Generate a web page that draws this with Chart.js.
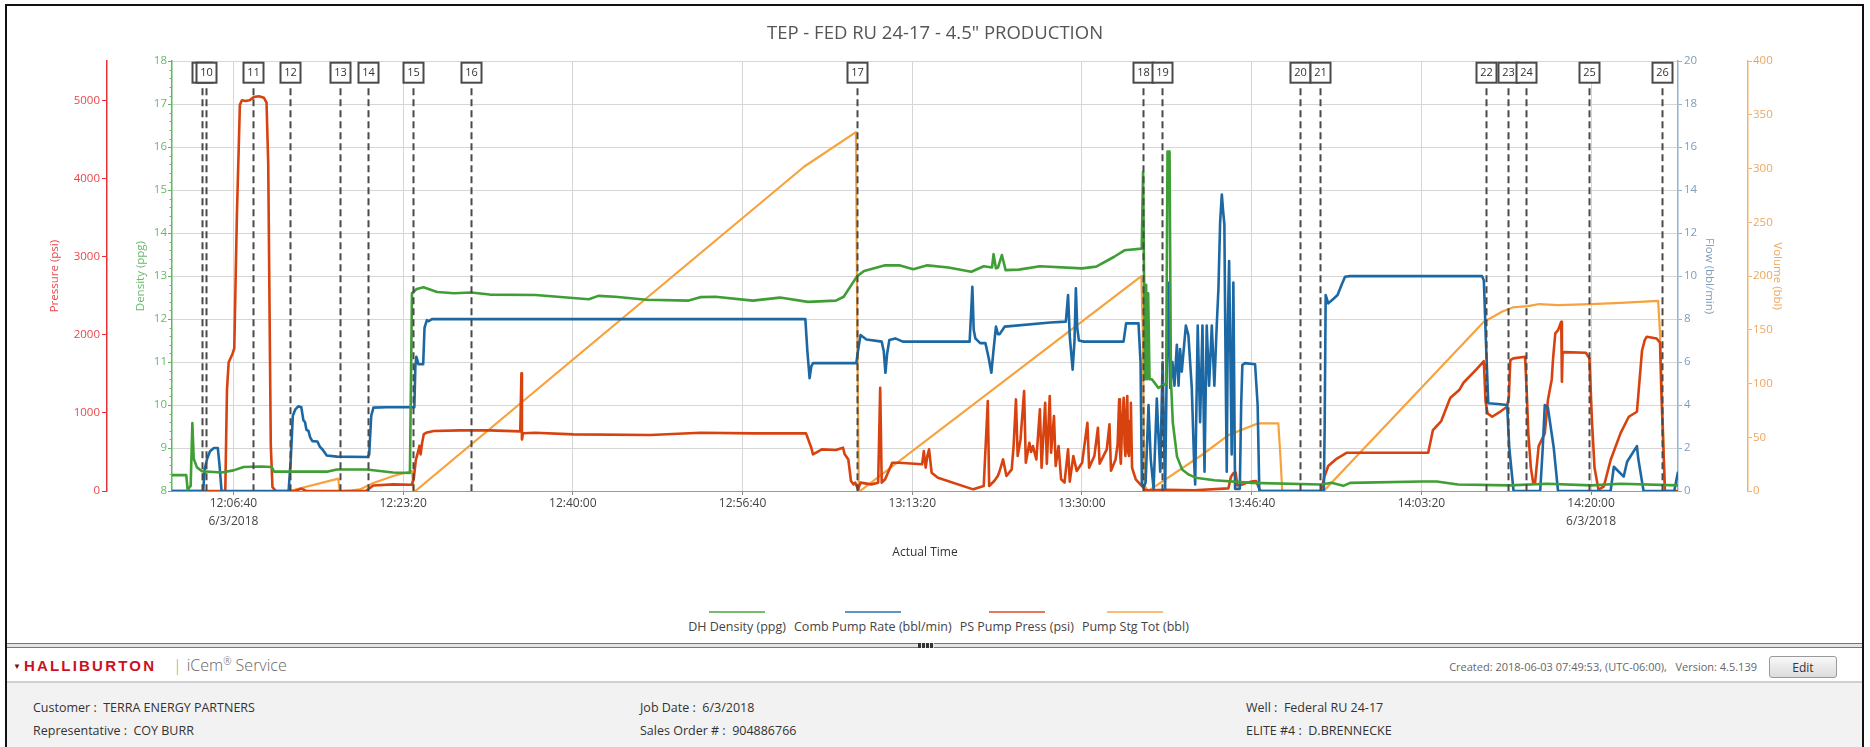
<!DOCTYPE html>
<html>
<head>
<meta charset="utf-8">
<title>TEP - FED RU 24-17 - 4.5" PRODUCTION</title>
<script src="https://cdn.jsdelivr.net/npm/chart.js@4.4.1/dist/chart.umd.min.js"></script>
<style>
  body { margin: 0; width: 1870px; height: 747px; overflow: hidden; background: #fff; position: relative;
         font-family: 'Open Sans', 'Liberation Sans', sans-serif; color: #333; }
  #frame { position: absolute; left: 5px; top: 4px; width: 1855px; height: 800px; border: 2px solid #111; border-bottom: none; pointer-events: none; }
  #jobChart { position: absolute; left: 0; top: 0; }
  #legend { position: absolute; top: 611px; left: 0; width: 1877px; display: flex; justify-content: center; gap: 8px; font-size: 12.5px; color: #444; }
  #legend .item { display: flex; flex-direction: column; align-items: center; line-height: 16px; }
  #legend .swatch { width: 56px; height: 2px; margin-bottom: 6px; opacity: .7; }
  #splitter { position: absolute; left: 7px; top: 643px; width: 1855px; height: 3px; background: #e4e4e4; border-top: 1px solid #777; border-bottom: 1px solid #777; }
  #splitter .grip { position: absolute; left: 911px; top: -1px; width: 16px; height: 5px; background: repeating-linear-gradient(90deg, #333 0 3px, #e4e4e4 3px 4px); }
  #header { position: absolute; left: 7px; top: 650px; width: 1855px; height: 31px; border-bottom: 2px solid #d0d0d0; }
  #header .brand { position: absolute; left: 6px; top: 7px; font: bold 15px 'Liberation Sans', sans-serif; letter-spacing: 2.2px; color: #cc1122; }
  #header .brand .tri { font-size: 8px; color: #7a1010; margin-right: 3px; vertical-align: 2px; letter-spacing: 0; }
  #header .svc { position: absolute; left: 166px; top: 4px; font-size: 16px; color: #666; font-weight: 300; }
  #header .svc .bar { color: #999; margin-right: 5px; }
  #header .svc sup { font-size: 10px; }
  #header .created { position: absolute; right: 105px; top: 9px; font-size: 11px; color: #666; }
  #header button { position: absolute; left: 1762px; top: 6px; width: 68px; height: 22px; font: 12px 'Open Sans', sans-serif; color: #333;
                   background: linear-gradient(#f8f8f8, #dcdcdc); border: 1px solid #9a9a9a; border-radius: 3px; padding: 0; }
  #info { position: absolute; left: 7px; top: 683px; width: 1855px; height: 80px; background: #f2f2f2; font-size: 12.5px; color: #333; }
  #info .f { position: absolute; }
</style>
</head>
<body>
<div id="frame"></div>
<canvas id="jobChart" width="1870" height="560"></canvas>
<div id="legend"></div>
<div id="splitter"><span class="grip"></span></div>
<div id="header">
  <span class="brand"><span class="tri">&#9660;</span>HALLIBURTON</span>
  <span class="svc"><span class="bar">|</span>iCem<sup>&reg;</sup> Service</span>
  <span class="created">Created: 2018-06-03 07:49:53, (UTC-06:00),&nbsp;&nbsp; Version: 4.5.139</span>
  <button>Edit</button>
</div>
<div id="info">
  <span class="f" style="left:26px; top:16px">Customer : &nbsp;TERRA ENERGY PARTNERS</span>
  <span class="f" style="left:26px; top:39px">Representative : &nbsp;COY BURR</span>
  <span class="f" style="left:633px; top:16px">Job Date : &nbsp;6/3/2018</span>
  <span class="f" style="left:633px; top:39px">Sales Order # : &nbsp;904886766</span>
  <span class="f" style="left:1239px; top:16px">Well : &nbsp;Federal RU 24-17</span>
  <span class="f" style="left:1239px; top:39px">ELITE #4 : &nbsp;D.BRENNECKE</span>
</div>
<script>
// times are seconds after 12:00:00 on 6/3/2018
const chartTitle = 'TEP - FED RU 24-17 - 4.5" PRODUCTION';
const seriesNames = ['DH Density (ppg)', 'Comb Pump Rate (bbl/min)', 'PS Pump Press (psi)', 'Pump Stg Tot (bbl)'];

const tickTimes = [400, 1400, 2400, 3400, 4400, 5400, 6400, 7400, 8400];
const tickLabels = [['12:06:40', '6/3/2018'], '12:23:20', '12:40:00', '12:56:40', '13:13:20',
                    '13:30:00', '13:46:40', '14:03:20', ['14:20:00', '6/3/2018']];
const pressureTicks = [0, 1000, 2000, 3000, 4000, 5000];

const eventLabels = ['9', '10', '11', '12', '13', '14', '15', '16', '17', '18', '19', '20', '21', '22', '23', '24', '25', '26'];
const eventTimes = [216, 238, 518, 734, 1026, 1190, 1457, 1797, 4072, 5760, 5873, 6686, 6805, 7782, 7910, 8015, 8388, 8818];

const densityData = [
  [38, 8.37], [122, 8.37], [130, 8.03], [148, 8.12], [158, 9.58], [166, 8.75], [185, 8.55], [215, 8.46], [330, 8.43],
  [400, 8.48], [460, 8.56], [560, 8.57], [625, 8.56], [640, 8.45], [950, 8.45], [1010, 8.5], [1185, 8.5], [1340, 8.43],
  [1440, 8.42], [1452, 12.6], [1480, 12.7], [1520, 12.74], [1600, 12.63], [1700, 12.6], [1800, 12.62], [1910, 12.57],
  [2180, 12.56], [2400, 12.49], [2494, 12.46], [2550, 12.54], [2650, 12.52], [2834, 12.45], [3083, 12.43], [3150, 12.51],
  [3240, 12.52], [3460, 12.43], [3620, 12.5], [3785, 12.4], [3950, 12.43], [3996, 12.52], [4075, 13.0], [4116, 13.12],
  [4240, 13.25], [4323, 13.25], [4406, 13.16], [4489, 13.25], [4613, 13.2], [4748, 13.1], [4821, 13.23], [4870, 13.2],
  [4879, 13.51], [4893, 13.18], [4905, 13.2], [4928, 13.49], [4950, 13.14], [5028, 13.15], [5152, 13.23], [5400, 13.18],
  [5484, 13.22], [5590, 13.45], [5650, 13.6], [5752, 13.64], [5760, 15.42], [5766, 12.9], [5772, 10.6], [5778, 12.8],
  [5784, 10.6], [5790, 12.6], [5798, 10.6], [5812, 10.6], [5850, 10.4], [5896, 10.5], [5904, 15.9], [5916, 15.9],
  [5924, 10.6], [5935, 9.6], [5960, 8.8], [5990, 8.5], [6030, 8.38], [6070, 8.31], [6180, 8.25], [6400, 8.19],
  [6810, 8.15], [6870, 8.19], [6940, 8.12], [6980, 8.19], [7400, 8.22], [7490, 8.22], [7615, 8.15], [7920, 8.13],
  [8140, 8.17], [8400, 8.13], [8575, 8.17], [8912, 8.13]
];

const flowData = [
  [38, 0], [222, 0], [230, 1.0], [245, 1.5], [262, 1.85], [285, 2.0], [308, 2.0], [318, 1.2], [330, 0], [725, 0],
  [738, 1.5], [750, 3.5], [765, 3.8], [782, 3.94], [800, 3.9], [812, 3.3], [822, 3.2], [830, 2.85], [842, 2.8],
  [852, 2.5], [865, 2.32], [895, 2.3], [910, 2.05], [925, 1.93], [950, 1.65], [1010, 1.6], [1190, 1.58], [1200, 1.7],
  [1212, 3.5], [1225, 3.88], [1300, 3.9], [1466, 3.9], [1472, 5.8], [1478, 6.25], [1490, 5.9], [1518, 5.9],
  [1526, 7.6], [1540, 7.95], [1550, 7.9], [1570, 8.0], [3770, 8.0], [3782, 6.5], [3795, 5.25], [3805, 5.8],
  [3815, 5.95], [4070, 5.95], [4080, 6.5], [4095, 7.26], [4130, 7.05], [4220, 6.95], [4232, 6.5], [4242, 5.5],
  [4252, 6.4], [4265, 7.03], [4300, 7.1], [4344, 6.95], [4738, 6.95], [4748, 8.5], [4754, 9.5], [4762, 7.5],
  [4772, 7.1], [4800, 6.88], [4831, 6.88], [4850, 6.2], [4866, 5.5], [4878, 6.5], [4893, 7.65], [4905, 7.3],
  [4915, 7.3], [4945, 7.65], [5214, 7.84], [5305, 7.88], [5318, 9.12], [5328, 7.2], [5345, 5.65], [5356, 7.0],
  [5364, 9.43], [5372, 7.6], [5382, 7.0], [5411, 6.95], [5645, 6.95], [5660, 7.8], [5733, 7.8], [5745, 6.0],
  [5753, 0.3], [5765, 0.2], [5775, 0.4], [5792, 4.0], [5805, 1.5], [5822, 0.1], [5841, 4.3], [5851, 2.5],
  [5861, 0.9], [5875, 6.0], [5882, 3.0], [5890, 0.1], [5906, 9.7], [5920, 4.8], [5933, 6.0], [5945, 4.9],
  [5959, 6.8], [5969, 4.9], [5978, 6.6], [5988, 5.55], [6012, 7.7], [6027, 7.25], [6047, 4.8], [6060, 1.5],
  [6067, 0.3], [6082, 7.7], [6096, 3.2], [6110, 7.7], [6122, 0.9], [6135, 7.7], [6149, 4.9], [6165, 7.7],
  [6180, 4.9], [6194, 7.7], [6204, 9.4], [6214, 12.5], [6224, 13.8], [6232, 13.0], [6239, 12.4], [6246, 6.0],
  [6253, 0.9], [6260, 8.0], [6267, 10.7], [6275, 6.0], [6282, 1.7], [6292, 9.7], [6302, 0.1], [6330, 0.1],
  [6338, 4.0], [6345, 5.86], [6360, 5.95], [6420, 5.9], [6435, 4.0], [6445, 0], [6825, 0], [6830, 3.0],
  [6836, 9.12], [6851, 8.73], [6884, 8.96], [6906, 9.12], [6930, 9.6], [6950, 9.97], [6980, 10.0], [7757, 10.0],
  [7768, 9.8], [7780, 7.0], [7794, 4.08], [7850, 4.05], [7905, 4.0], [7918, 2.0], [7943, 0], [8100, 0],
  [8115, 2.0], [8127, 4.0], [8145, 3.9], [8180, 2.0], [8205, 0], [8515, 0], [8534, 1.13], [8592, 0.67],
  [8612, 1.36], [8670, 2.09], [8678, 1.5], [8709, 0], [8890, 0], [8912, 0.9]
];

const pressureData = [
  [38, 0], [352, 0], [362, 1300], [372, 1650], [395, 1760], [405, 1830], [420, 3500], [438, 4950], [450, 5010],
  [470, 5000], [495, 5010], [520, 5050], [550, 5060], [580, 5040], [595, 4980], [605, 4200], [620, 600], [630, 50],
  [650, 0], [760, 0], [800, 30], [830, 0], [1180, 0], [1224, 70], [1342, 85], [1450, 80], [1462, 150], [1475, 400],
  [1489, 510], [1496, 580], [1503, 470], [1512, 620], [1522, 730], [1540, 750], [1580, 770], [1735, 777], [1911, 777],
  [2090, 765], [2097, 1510], [2100, 660], [2106, 740], [2177, 747], [2404, 726], [2857, 718], [3151, 747], [3463, 739],
  [3774, 739], [3805, 555], [3815, 470], [3867, 534], [3950, 525], [3992, 555], [4002, 470], [4023, 405], [4039, 128],
  [4054, 85], [4064, 107], [4081, 21], [4095, 107], [4158, 85], [4199, 107], [4211, 1324], [4220, 107], [4240, 150],
  [4282, 363], [4323, 363], [4458, 342], [4468, 512], [4479, 300], [4489, 450], [4499, 534], [4514, 235], [4551, 171],
  [4759, 21], [4821, 64], [4845, 1153], [4853, 64], [4883, 128], [4904, 192], [4914, 250], [4935, 405], [4955, 192],
  [4986, 277], [4997, 576], [5011, 1174], [5021, 448], [5038, 661], [5059, 1281], [5069, 363], [5090, 619], [5100, 500],
  [5111, 576], [5131, 405], [5152, 1046], [5162, 300], [5183, 1131], [5193, 350], [5210, 1217], [5218, 491], [5235, 960],
  [5245, 320], [5262, 576], [5277, 150], [5297, 107], [5318, 534], [5328, 120], [5349, 448], [5369, 256], [5401, 363],
  [5432, 875], [5442, 300], [5473, 448], [5494, 811], [5504, 350], [5546, 534], [5562, 854], [5571, 260], [5598, 405],
  [5610, 600], [5619, 1174], [5624, 500], [5629, 350], [5637, 900], [5646, 1196], [5651, 600], [5656, 450], [5662, 1000],
  [5667, 1217], [5672, 500], [5677, 450], [5683, 900], [5688, 1131], [5695, 300], [5702, 250], [5717, 150], [5753, 64],
  [5774, 10], [5900, 15], [6060, 10], [6263, 34], [6278, 184], [6292, 226], [6306, 235], [6315, 70], [6341, 80],
  [6372, 107], [6400, 120], [6426, 128], [6450, 0], [6808, 0], [6830, 192], [6851, 320], [6895, 405], [6961, 491],
  [7440, 491], [7468, 781], [7517, 897], [7565, 1166], [7571, 1196], [7623, 1294], [7648, 1388], [7724, 1559],
  [7768, 1665], [7778, 1150], [7790, 995], [7817, 952], [7860, 1010], [7904, 1080], [7915, 1200], [7924, 1678],
  [7942, 1700], [8011, 1721], [8022, 1200], [8030, 740], [8045, 300], [8059, 98], [8070, 110], [8091, 576],
  [8127, 739], [8146, 1174], [8168, 1430], [8176, 1700], [8189, 2020], [8205, 2062], [8224, 2169], [8228, 1400],
  [8232, 1763], [8240, 1780], [8369, 1772], [8390, 1700], [8405, 900], [8420, 300], [8443, 21], [8457, 34], [8475, 60],
  [8515, 397], [8573, 739], [8622, 952], [8670, 1016], [8700, 1800], [8716, 1934], [8728, 1977], [8786, 1956],
  [8806, 1900], [8815, 1200], [8835, 0], [8912, 0]
];

const volumeData = [
  [38, 0], [730, 0], [1018, 11.5], [1025, 0.5], [1035, 0], [1100, 0.5], [1145, 1.5], [1224, 7.5], [1342, 14],
  [1452, 18.6], [1462, 1], [1472, 0], [3764, 302], [4068, 334], [4076, 150], [4085, 0], [4092, 0], [5750, 200],
  [5758, 150], [5768, 5], [5790, 0], [5800, 1], [6106, 33.5], [6263, 52], [6439, 63], [6557, 63], [6570, 30],
  [6580, 0], [6812, 0], [6830, 1], [7768, 157.6], [7820, 162], [7877, 167], [7942, 171], [8029, 172], [8095, 174],
  [8204, 173], [8400, 174], [8574, 175], [8795, 177], [8805, 150], [8820, 80], [8835, 0], [8912, 0]
];

const font = "'Open Sans', 'Liberation Sans', sans-serif";
const toXY = (pts) => pts.map(([x, y]) => ({ x, y }));

const eventMarkers = {
  id: 'eventMarkers',
  afterDatasetsDraw(chart) {
    const { ctx, chartArea, scales } = chart;
    const xs = eventTimes.map(t => Math.round(scales.x.getPixelForValue(t)) + 0.5);
    ctx.save();
    ctx.strokeStyle = '#4a4a4a';
    ctx.lineWidth = 2;
    ctx.setLineDash([7, 4]);
    xs.forEach(px => {
      ctx.beginPath();
      ctx.moveTo(px, chartArea.top + 27);
      ctx.lineTo(px, chartArea.bottom);
      ctx.stroke();
    });
    ctx.setLineDash([]);
    ctx.font = '11px ' + font;
    ctx.textAlign = 'center';
    ctx.textBaseline = 'middle';
    xs.forEach((px, i) => {
      ctx.fillStyle = '#fff';
      ctx.fillRect(px - 10, chartArea.top + 1.5, 20, 20);
      ctx.strokeRect(px - 10, chartArea.top + 1.5, 20, 20);
      ctx.fillStyle = '#333';
      ctx.fillText(eventLabels[i], px, chartArea.top + 12);
    });
    // minor ticks on the density axis
    const d = scales.density;
    ctx.strokeStyle = '#6ab768';
    ctx.lineWidth = 1;
    for (let i = 41; i < 90; i++) {
      if (i % 5 === 0) continue;
      const y = Math.round(d.getPixelForValue(i / 5)) + 0.5;
      ctx.beginPath();
      ctx.moveTo(d.right - 2.5, y);
      ctx.lineTo(d.right, y);
      ctx.stroke();
    }
    ctx.restore();
  }
};

function yAxis(color, labelColor, opts) {
  return {
    position: opts.position,
    weight: opts.weight,
    min: opts.min,
    max: opts.max,
    ticks: { stepSize: opts.step, includeBounds: false, color: labelColor, font: { family: font, size: 11.5 }, padding: opts.pad,
             callback: (v) => String(v) },
    grid: { drawOnChartArea: false, color: color, tickLength: opts.tick },
    border: { color: color, width: 1.5 },
    title: { display: true, text: opts.title, color: labelColor, font: { family: font, size: 11.5 }, padding: { top: opts.titlePad, bottom: 0 } },
    afterFit: (scale) => { scale.width = opts.width; }
  };
}

const scales = {
  x: {
    type: 'linear',
    min: 38,
    max: 8912,
    afterBuildTicks: (scale) => { scale.ticks = tickTimes.map(v => ({ value: v })); },
    ticks: { callback: (v, i) => tickLabels[i], color: '#444', font: { family: font, size: 12, lineHeight: 1.45 },
             padding: 0, maxRotation: 0, autoSkip: false },
    grid: { color: '#d6d6d6', tickColor: '#888', tickLength: 4 },
    border: { color: '#9a9a9a' },
    title: { display: true, text: 'Actual Time', color: '#333', font: { family: font, size: 12 }, padding: 0 },
    afterFit: (scale) => { scale.height = 69; }
  },
  pressure: yAxis('#e8303a', '#e8474c', { position: 'left', weight: 2, min: 0, max: 5510, step: 1000, pad: 2, tick: 5, width: 107, titlePad: 48, title: 'Pressure (psi)' }),
  density: yAxis('#5cb85c', '#6ab768', { position: 'left', weight: 1, min: 8, max: 18, step: 1, pad: 1, tick: 4, width: 65, titlePad: 27, title: 'Density (ppg)' }),
  flow: yAxis('#8fb2d4', '#7d9dbd', { position: 'right', weight: 1, min: 0, max: 20, step: 2, pad: 2, tick: 4, width: 70, titlePad: 32, title: 'Flow (bbl/min)' }),
  volume: yAxis('#f5b26b', '#f0a55c', { position: 'right', weight: 2, min: 0, max: 400, step: 50, pad: 1, tick: 4, width: 122, titlePad: 86, title: 'Volume (bbl)' })
};
scales.pressure.afterBuildTicks = (scale) => { scale.ticks = pressureTicks.map(v => ({ value: v })); };
scales.density.grid = { drawOnChartArea: true, color: '#d6d6d6', tickColor: '#5cb85c', tickLength: 4 };

const chart = new Chart(document.getElementById('jobChart'), {
  type: 'line',
  data: {
    datasets: [
      { label: seriesNames[0], data: toXY(densityData), yAxisID: 'density', borderColor: '#3f9e35', borderWidth: 2.6 },
      { label: seriesNames[1], data: toXY(flowData), yAxisID: 'flow', borderColor: '#1c68a4', borderWidth: 2.6 },
      { label: seriesNames[2], data: toXY(pressureData), yAxisID: 'pressure', borderColor: '#d8420f', borderWidth: 2.6 },
      { label: seriesNames[3], data: toXY(volumeData), yAxisID: 'volume', borderColor: '#f7a23c', borderWidth: 2.2 }
    ]
  },
  options: {
    responsive: false,
    animation: false,
    layout: { padding: 0 },
    elements: { point: { radius: 0 }, line: { tension: 0, borderJoinStyle: 'round' } },
    plugins: {
      legend: { display: false },
      tooltip: { enabled: false },
      title: { display: true, text: chartTitle, color: '#555', font: { family: font, size: 18.5, weight: 'normal' }, padding: { top: 23, bottom: 16 } }
    },
    scales: scales
  },
  plugins: [eventMarkers]
});

document.getElementById('legend').innerHTML = chart.data.datasets.map(ds => `
  <div class="item"><span class="swatch" style="background:${ds.borderColor}"></span>${ds.label}</div>`).join('');
</script>
</body>
</html>
